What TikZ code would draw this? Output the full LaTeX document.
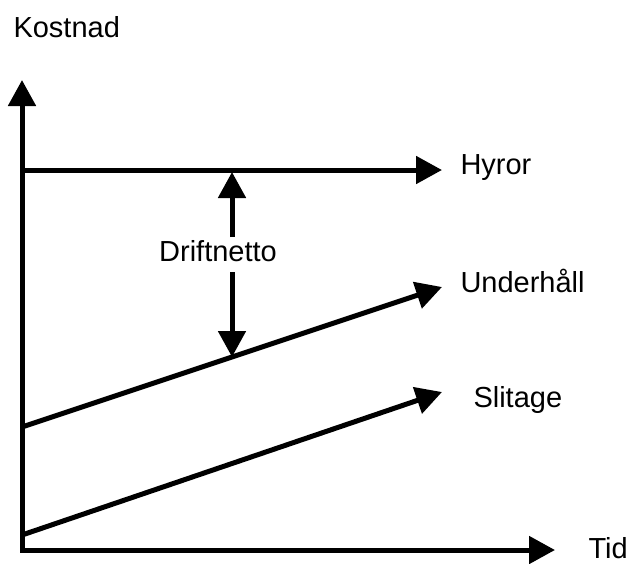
\documentclass[tikz,border=0pt]{standalone}
\usepackage{fontspec}
\setmainfont{Liberation Sans}
\usetikzlibrary{arrows.meta}
\begin{document}
\begin{tikzpicture}[x=1pt,y=-1pt,line width=5pt,
  arr/.style={-{Triangle[length=26pt,width=27pt]}},
  lbl/.style={font=\fontsize{29}{33}\selectfont,inner sep=0pt}]
\useasboundingbox (0,0) rectangle (634,563);
% axes
\coordinate (ytop) at (22,80);
\coordinate (O) at (22,550);
\coordinate (xend) at (555,550);
\draw[{Triangle[length=26pt,width=27pt]}-{Triangle[length=26pt,width=27pt]}] (ytop) -- (O) -- (xend);
% lines
\coordinate (h0) at (22,170);
\coordinate (h1) at (442,170);
\coordinate (u0) at (22,427);
\coordinate (u1) at (442,287);
\coordinate (s0) at (22,535);
\coordinate (s1) at (442,392);
\draw[arr] (h0) -- (h1);
\draw[arr] (u0) -- (u1);
\draw[arr] (s0) -- (s1);
% driftnetto
\node[lbl,anchor=base] (dn) at (218,261) {Driftnetto};
\coordinate (d1) at (232,237);
\coordinate (d1t) at (232,172);
\coordinate (d2) at (232,272);
\coordinate (d2t) at (232,357);
\draw[arr] (d1) -- (d1t);
\draw[arr] (d2) -- (d2t);
% labels
\node[lbl,anchor=base west] (k) at (11,37) {Kostnad};
\node[lbl,anchor=base west] (hy) at (458,174) {Hyror};
\node[lbl,anchor=base west] (un) at (458,292) {Underhåll};
\node[lbl,anchor=base west] (sl) at (471,407) {Slitage};
\node[lbl,anchor=base west] (ti) at (586,558) {Tid};
\end{tikzpicture}
\end{document}
